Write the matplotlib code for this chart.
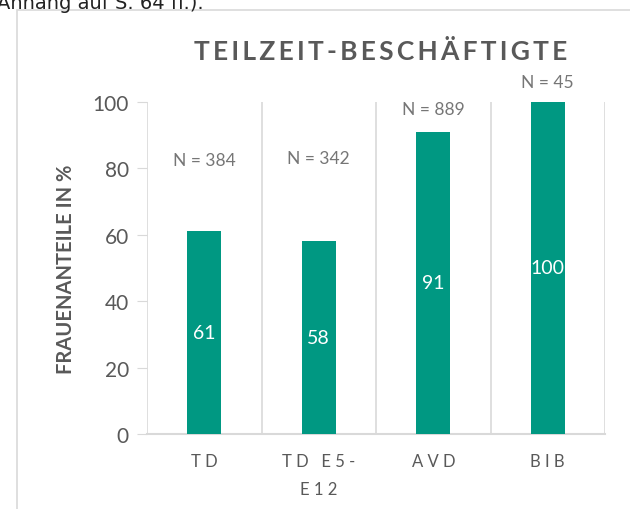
import matplotlib.pyplot as plt
from matplotlib.patches import Rectangle

plt.rcParams['font.family'] = ['Lato', 'DejaVu Sans']

categories = ["TD", "TD E5-\nE12", "AVD", "BIB"]
values = [61, 58, 91, 100]
n_labels = ["N = 384", "N = 342", "N = 889", "N = 45"]
n_label_y = [82.5, 83, 98, 106]

title = "TEILZEIT-BESCHÄFTIGTE"
ylabel = "FRAUENANTEILE IN %"
bar_color = "#009882"
grid_color = "#d9d9d9"
text_gray = "#595959"


def spaced(s, sep="\u2009"):
    return "\n".join(sep.join(line) for line in s.split("\n"))


fig = plt.figure(figsize=(6.3, 5.1), dpi=100)

# text above the chart (cut off in the screenshot)
fig.text(-0.005, 1 - 9 / 510, "Anhang auf S. 64 ff.).", fontsize=14,
         family="DejaVu Sans", color="#222222", va="baseline", ha="left")

# chart frame
fig.patches.append(Rectangle((17 / 630, -0.1), 1.0, 1 - 11 / 510 + 0.1,
                             transform=fig.transFigure, fill=False,
                             edgecolor=grid_color, linewidth=1.2))

ax = fig.add_axes([147 / 630, 1 - 435 / 510, 458 / 630, 332 / 510])
x = list(range(len(categories)))
ax.bar(x, values, width=0.3, color=bar_color, zorder=3)

ax.set_xlim(-0.5, len(categories) - 0.5)
ax.set_ylim(0, 100)
ax.set_yticks([0, 20, 40, 60, 80, 100])

# category separators
for b in range(len(categories) + 1):
    ax.axvline(b - 0.5, color=grid_color, linewidth=1.2, zorder=1)

for s in ["top", "right", "left"]:
    ax.spines[s].set_visible(False)
ax.spines["bottom"].set_color(grid_color)
ax.spines["bottom"].set_linewidth(1.5)

ax.tick_params(axis="y", length=7, color=grid_color, labelsize=15,
               labelcolor=text_gray, pad=6)
ax.tick_params(axis="x", length=0, labelsize=12, labelcolor=text_gray, pad=14)
ax.set_xticks(x)
ax.set_xticklabels([spaced(c, " ") for c in categories], linespacing=1.9)

for xi, v in zip(x, values):
    ax.text(xi, v / 2, str(v), ha="center", va="center", color="white",
            fontsize=14, zorder=4)

for xi, lab, ly in zip(x, n_labels, n_label_y):
    ax.text(xi, ly, lab, ha="center", va="center", color="#767676",
            fontsize=12.5, clip_on=False)

ax.set_ylabel(ylabel, fontsize=14.5, fontweight="bold", color=text_gray,
              labelpad=12)

fig.text(381 / 630, 1 - 52 / 510, spaced(title, "\u2009"), fontsize=19,
         fontweight="bold", color=text_gray, ha="center", va="center")

fig.savefig("out.png", dpi=100)
